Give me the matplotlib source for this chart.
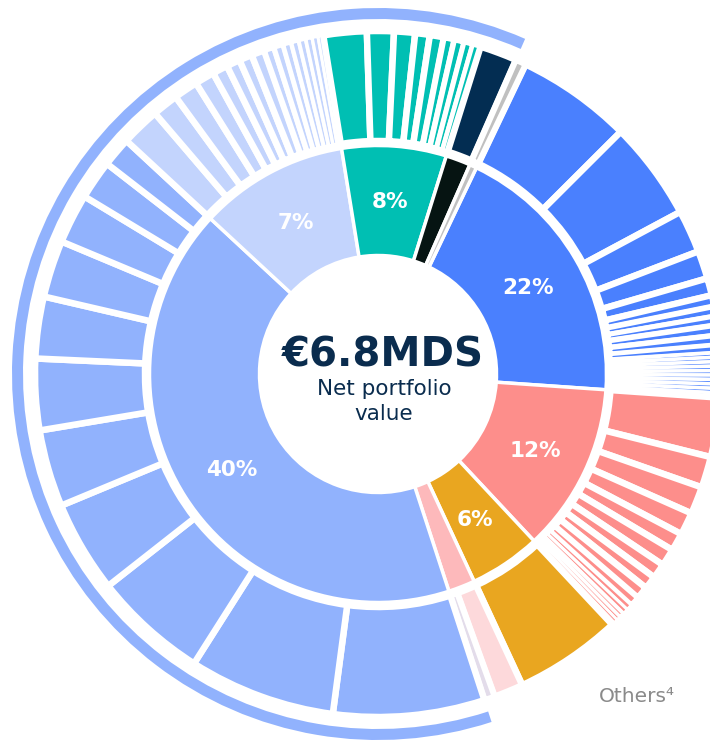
import numpy as np
import matplotlib.pyplot as plt

# inner ring, read clockwise starting at the top edge of the 22% slice (sizes in degrees of arc)
groups = ["blue22", "pink12", "gold6", "lightpink", "blue40", "light7", "teal8", "black", "grey"]
inner_sizes = [68.5, 43.0, 18.2, 6.8, 151.0, 38.0, 26.6, 6.3, 1.8]
inner_labels = ["22%", "12%", "6%", "", "40%", "7%", "8%", "", ""]
inner_colors = ["#4a80fe", "#fd8e8b", "#e9a620", "#fdb9bb", "#91b2fd",
                "#c3d4fd", "#00bfb3", "#061412", "#c0c0c0"]

# outer ring, same clockwise order, sub-positions of every group
outer_sizes = {
    "blue22": [19.4, 16.6, 7.2, 4.7, 2.9, 1.9, 1.6, 1.5, 1.7, 1.6, 1.3,
               0.75, 0.75, 0.75, 0.75, 0.75, 0.75, 0.75, 0.75, 0.75, 0.75],
    "pink12": [9.9, 5.2, 4.6, 3.8, 3.0, 2.9, 2.5, 2.2, 2.1, 1.6,
               1.0, 0.9, 0.8, 0.7, 0.6, 0.5],
    "gold6": [18.2],
    "lightpink": [5.0, 1.8],
    "blue40": [25.5, 24.7, 19.3, 15.5, 13.0, 12.0, 10.4, 9.6, 8.4, 6.6, 5.0],
    "light7": [6.6, 4.4, 4.1, 3.3, 2.6, 2.3, 2.2, 2.2, 1.7, 1.6, 1.4, 1.3,
               1.2, 1.1, 1.0, 0.9],
    "teal8": [7.4, 4.6, 3.6, 2.5, 2.4, 1.8, 1.7, 1.5, 1.4],
    "black": [6.3],
    "grey": [1.8],
}
outer_colors = {
    "blue22": "#4a80fe", "pink12": "#fd8e8b", "gold6": "#e9a620",
    "lightpink": ["#fdd9db", "#e3dcea"], "blue40": "#91b2fd",
    "light7": "#c3d4fd", "teal8": "#00bfb3", "black": "#032d52", "grey": "#c0c0c0",
}
# groups wrapped by the thin outside arc
arc_groups = ["blue40", "light7", "teal8", "black"]

total_label = "€6.8MDS"
sub_label = "Net portfolio\nvalue"
others_label = "Others⁴"

start = 64.5
R_OUT = 340

fig = plt.figure(figsize=(7.1, 7.4), dpi=100)
ax = fig.add_axes([0, 0, 1, 1])

# inner ring
inner_wedges, _ = ax.pie(inner_sizes, colors=inner_colors, startangle=start,
                         counterclock=False, radius=228.5,
                         wedgeprops=dict(width=110, edgecolor="white", linewidth=2.5))

# outer ring, each group scaled to the arc of its inner slice
o_vals, o_cols = [], []
for g, size in zip(groups, inner_sizes):
    sub = np.array(outer_sizes[g])
    o_vals += list(sub * size / sub.sum())
    c = outer_colors[g]
    o_cols += c if isinstance(c, list) else [c] * len(sub)

outer_wedges, _ = ax.pie(o_vals, colors=o_cols, startangle=start,
                         counterclock=False, radius=343,
                         wedgeprops=dict(width=110, edgecolor="white", linewidth=4))
# narrow slices get a narrower white gap, the tiniest end up as faint lines
for w in outer_wedges:
    seg_px = np.radians(abs(w.theta2 - w.theta1)) * R_OUT
    if seg_px < 5:
        gap = seg_px - 1.0
    else:
        gap = np.clip(0.55 * seg_px, 1.5, 6.5)
    w.set_linewidth(gap * 0.72)

# thin arc around part of the chart
idx = [groups.index(g) for g in arc_groups]
before = sum(inner_sizes[:idx[0]])
covered = sum(inner_sizes[i] for i in idx)
after = sum(inner_sizes) - before - covered
ax.pie([before, covered, after], colors=["none", "#91b2fd", "none"],
       startangle=start, counterclock=False, radius=366,
       wedgeprops=dict(width=11, linewidth=0))

# percentage labels in the inner ring
for w, lab in zip(inner_wedges, inner_labels):
    if not lab:
        continue
    mid = np.radians((w.theta1 + w.theta2) / 2)
    ax.text(174 * np.cos(mid), 174 * np.sin(mid), lab, color="white",
            fontsize=15.5, fontweight="bold", ha="center", va="center_baseline")

ax.text(5, 7, total_label, color="#0a2c4e", fontsize=29, fontweight="bold",
        ha="center", va="baseline")
ax.text(6, -21, sub_label.split("\n")[0], color="#0a2c4e", fontsize=15.5,
        ha="center", va="baseline")
ax.text(6, -46, sub_label.split("\n")[1], color="#0a2c4e", fontsize=15.5,
        ha="center", va="baseline")
ax.text(259, -328, others_label, color="#8a8a8a", fontsize=14.5,
        ha="center", va="baseline")

ax.set_xlim(-378, 332)
ax.set_ylim(-366, 374)
ax.set_aspect("equal")
ax.axis("off")

fig.savefig("out.png", dpi=100)
